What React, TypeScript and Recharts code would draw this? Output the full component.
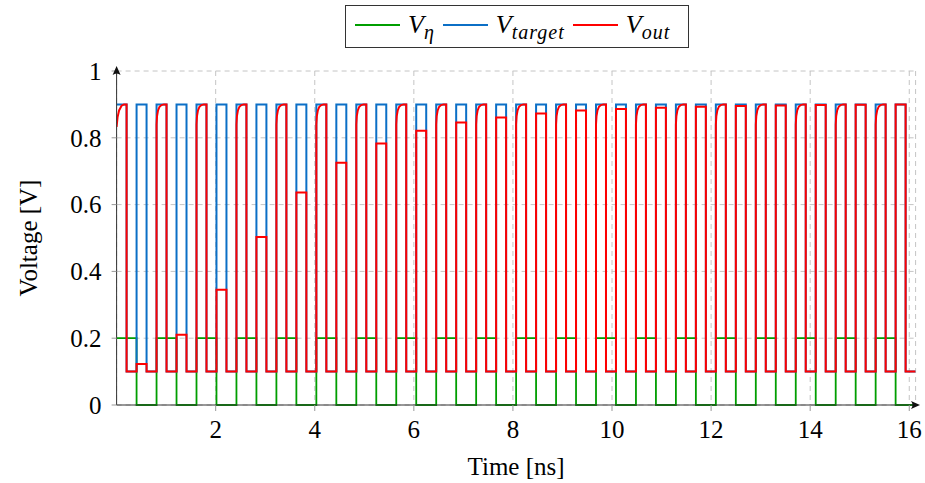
import { LineChart, Line, XAxis, YAxis, CartesianGrid } from "recharts";

// half clock period (one phase) in ns
const PHASE = 0.2016;
const CYCLES = 20; // 4 phases per cycle

// levels in each of the 4 phases of a cycle
const etaPhases = [0.2, 0.2, 0, 0];
const targetPhases = [0.9, 0.1, 0.9, 0.1];
const outLow = 0.1;
const outHigh = 0.9;

// V_out reached in the 3rd phase of each cycle
const outHold = [
  0.123, 0.21, 0.345, 0.503, 0.636, 0.725, 0.783, 0.821, 0.846, 0.861,
  0.873, 0.882, 0.886, 0.89, 0.893, 0.895, 0.897, 0.898, 0.899, 0.9,
];

// shape of the V_out rise in the 1st phase: [offset ns, volts]
const firstRise = [
  [0, 0.833], [0.02, 0.862], [0.05, 0.882], [0.1, 0.896], [0.15, 0.9],
];
const riseShape = [
  [0, 0.84], [0.01, 0.865], [0.03, 0.882], [0.06, 0.893], [0.1, 0.898], [0.15, 0.9],
];

const xTicks = [2, 4, 6, 8, 10, 12, 14, 16];
const yTicks = [0, 0.2, 0.4, 0.6, 0.8, 1];

const GREEN = "#009e00";
const BLUE = "#0b6fc6";
const RED = "#ff0000";
const FONT = "Liberation Serif, DejaVu Serif, serif";

const nPhases = CYCLES * 4;
const tAt = (i: number) => +(i * PHASE).toFixed(4);
const X_MAX = tAt(nPhases);

function squareWave(levels: number[]) {
  const pts: { t: number; v: number }[] = [];
  for (let i = 0; i < nPhases; i++) {
    const v = levels[i % 4];
    pts.push({ t: tAt(i), v }, { t: tAt(i + 1), v });
  }
  return pts;
}

function outWave() {
  const pts: { t: number; v: number }[] = [];
  for (let i = 0; i < nPhases; i++) {
    const ph = i % 4;
    const cyc = Math.floor(i / 4);
    if (ph === 0) {
      const shape = cyc === 0 ? firstRise : riseShape;
      shape.forEach(([dt, v]) => pts.push({ t: +(tAt(i) + dt).toFixed(4), v }));
      pts.push({ t: tAt(i + 1), v: outHigh });
    } else {
      const v = ph === 2 ? outHold[cyc] : outLow;
      pts.push({ t: tAt(i), v }, { t: tAt(i + 1), v });
    }
  }
  return pts;
}

const etaData = squareWave(etaPhases);
const targetData = squareWave(targetPhases);
const outData = outWave();

const tickStyle = { fill: "#000", fontSize: 25, fontFamily: FONT };

function LegendItem({ color, sub }: { color: string; sub: string }) {
  return (
    <span style={{ display: "flex", alignItems: "center", marginRight: 8 }}>
      <span style={{ width: 45, height: 2, background: color, marginRight: 8 }} />
      <span style={{ fontStyle: "italic", fontSize: 26, fontFamily: FONT, lineHeight: 1 }}>
        V
        <span style={{ fontSize: 20, letterSpacing: 1, position: "relative", top: 6 }}>{sub}</span>
      </span>
    </span>
  );
}

export default function App() {
  return (
    <div
      style={{
        position: "absolute",
        left: 0,
        top: 0,
        width: 925,
        height: 483,
        background: "#fff",
        fontFamily: FONT,
      }}
    >
      <LineChart width={925} height={483} margin={{ top: 71, right: 9.4, bottom: 0, left: 0 }}>
        <CartesianGrid stroke="#c4c4c4" strokeDasharray="5 4" />
        <XAxis
          type="number"
          dataKey="t"
          domain={[0, X_MAX]}
          ticks={xTicks}
          allowDataOverflow
          height={78}
          tickSize={6}
          tickMargin={9}
          tick={tickStyle}
          axisLine={{ stroke: "#333" }}
          tickLine={{ stroke: "#999" }}
          label={{ value: "Time [ns]", position: "insideBottom", offset: 8, fill: "#000", fontSize: 25, fontFamily: FONT }}
        />
        <YAxis
          type="number"
          domain={[0, 1]}
          ticks={yTicks}
          width={116.6}
          tickSize={5}
          tickMargin={10}
          tick={tickStyle}
          tickFormatter={(v) => String(v)}
          axisLine={{ stroke: "#333" }}
          tickLine={{ stroke: "#999" }}
          label={{
            value: "Voltage [V]",
            angle: -90,
            position: "insideLeft",
            offset: 28,
            fill: "#000",
            fontSize: 25,
            fontFamily: FONT,
            style: { textAnchor: "middle" },
          }}
        />
        <Line data={etaData} dataKey="v" type="linear" stroke={GREEN} strokeWidth={1.8} dot={false} isAnimationActive={false} />
        <Line data={targetData} dataKey="v" type="linear" stroke={BLUE} strokeWidth={2} dot={false} isAnimationActive={false} />
        <Line data={outData} dataKey="v" type="linear" stroke={RED} strokeWidth={2} dot={false} isAnimationActive={false} />
      </LineChart>

      <svg
        width={925}
        height={483}
        style={{ position: "absolute", left: 0, top: 0, pointerEvents: "none" }}
      >
        <path d="M 116.6 66 L 112.6 75 Q 116.6 72 120.6 75 Z" fill="#111" />
        <path d="M 920 405 L 911 401 Q 914 405 911 409 Z" fill="#111" />
      </svg>

      <div
        style={{
          position: "absolute",
          left: 345,
          top: 5,
          width: 344,
          height: 43,
          boxSizing: "border-box",
          border: "1px solid #333",
          display: "flex",
          alignItems: "center",
          paddingLeft: 9,
          paddingBottom: 4,
          background: "#fff",
        }}
      >
        <LegendItem color={GREEN} sub="η" />
        <LegendItem color={BLUE} sub="target" />
        <LegendItem color={RED} sub="out" />
      </div>
    </div>
  );
}
